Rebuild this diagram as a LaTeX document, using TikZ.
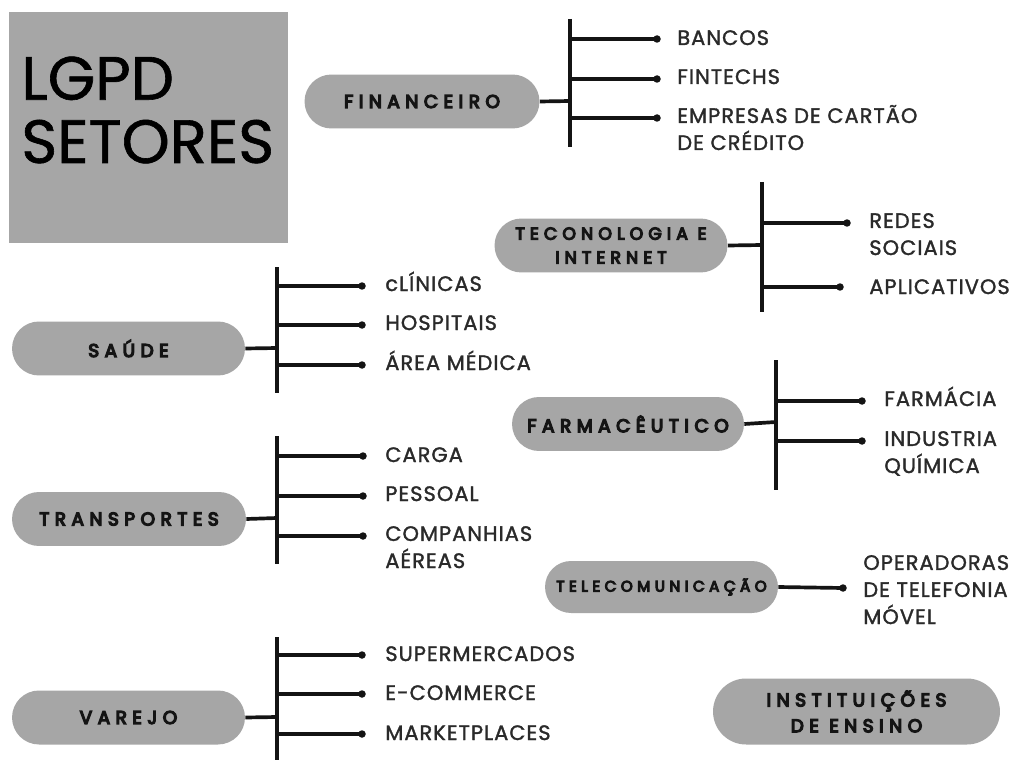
\documentclass[tikz,border=0pt]{standalone}
\usepackage{fontspec}
\setmainfont{Poppins}
\newfontfamily\pillfnt{Poppins}[LetterSpace=30, FakeBold=7]
\newfontfamily\itemfnt{Poppins}[LetterSpace=5, FakeBold=1.5]
\newfontfamily\titlefnt{Poppins}[FakeBold=1]
\usetikzlibrary{shapes.misc}
\definecolor{pillgray}{HTML}{A6A6A6}
\definecolor{ink}{HTML}{141414}
\definecolor{itemink}{HTML}{2A2A2A}
\begin{document}
\begin{tikzpicture}[x=0.02cm,y=-0.02cm,
  pill/.style={shape=rounded rectangle, fill=pillgray, minimum height=1.08cm, inner sep=0pt, align=center, text=ink, font={\pillfnt\fontsize{10.5}{13.5}\selectfont}},
  item/.style={anchor=base west, inner sep=0pt, align=left, text=itemink, font={\itemfnt\fontsize{11.9}{15.4}\selectfont}},
  link/.style={line width=2.1pt, draw=ink},
  dot/.style={circle, fill=ink, inner sep=0pt, minimum size=0.15cm}
]
\useasboundingbox (0,0) rectangle (1017,760);
\fill[white] (0,0) rectangle (1017,760);

% title
\node[fill=pillgray, minimum width=5.58cm, minimum height=4.62cm, inner sep=0pt] (titlebox) at (148.5,127.5) {};
\node[anchor=west, inner sep=0pt, align=left, text=black, font={\titlefnt\fontsize{34.8}{36}\selectfont}] (title) at (21,110) {LGPD\\SETORES};

% FINANCEIRO
\node[pill, minimum width=4.7cm] (fin) at (422,101.5) {FINANCEIRO};
\coordinate (finJ) at (570,101);
\coordinate (finT) at (570,19);
\coordinate (finE) at (570,147);
\draw[link] (fin.east) -- (finJ);
\draw[link] (finT) -- (finE);
\foreach \i/\y in {1/39,2/79,3/118}{
  \coordinate (finB\i) at (570,\y);
  \node[dot] (finD\i) at (657,\y) {};
  \draw[link] (finB\i) -- (finD\i.center);
}
\node[item] (bancos) at (677,45) {BANCOS};
\node[item] (fintechs) at (677,84) {FINTECHS};
\node[item] (cartao) at (677,150) {EMPRESAS DE CARTÃO\\DE CRÉDITO};

% TECONOLOGIA
\node[pill, minimum width=4.66cm, font={\pillfnt\fontsize{9.8}{13.6}\selectfont}] (tec) at (611,245.5) {TECONOLOGIA E\\INTERNET};
\coordinate (tecJ) at (762,245);
\coordinate (tecT) at (762,182);
\coordinate (tecE) at (762,312);
\draw[link] (tec.east) -- (tecJ);
\draw[link] (tecT) -- (tecE);
\coordinate (tecB1) at (762,223);
\coordinate (tecB2) at (762,287);
\node[dot] (tecD1) at (847,223) {};
\node[dot] (tecD2) at (840,287) {};
\draw[link] (tecB1) -- (tecD1.center);
\draw[link] (tecB2) -- (tecD2.center);
\node[item] (redes) at (869,255) {REDES\\SOCIAIS};
\node[item] (apps) at (869,294) {APLICATIVOS};

% SAUDE
\node[pill, minimum width=4.66cm] (saude) at (128.5,348.5) {SAÚDE};
\coordinate (sauJ) at (277,348);
\coordinate (sauT) at (277,267);
\coordinate (sauE) at (277,393);
\draw[link] (saude.east) -- (sauJ);
\draw[link] (sauT) -- (sauE);
\foreach \i/\y in {1/286,2/325,3/365}{
  \coordinate (sauB\i) at (277,\y);
  \node[dot] (sauD\i) at (362,\y) {};
  \draw[link] (sauB\i) -- (sauD\i.center);
}
\node[item] (clinicas) at (385,291) {cLÍNICAS};
\node[item] (hospitais) at (385,330) {HOSPITAIS};
\node[item] (areamed) at (385,370) {ÁREA MÉDICA};

% FARMACEUTICO
\node[pill, minimum width=4.64cm] (farm) at (628,424) {FARMACÊUTICO};
\coordinate (farJ) at (776,422);
\coordinate (farT) at (776,360);
\coordinate (farE) at (776,490);
\draw[link] (farm.east) -- (farJ);
\draw[link] (farT) -- (farE);
\foreach \i/\y in {1/401,2/441}{
  \coordinate (farB\i) at (776,\y);
  \node[dot] (farD\i) at (862,\y) {};
  \draw[link] (farB\i) -- (farD\i.center);
}
\node[item] (farmacia) at (884,406) {FARMÁCIA};
\node[item] (quimica) at (884,473) {INDUSTRIA\\QUÍMICA};

% TRANSPORTES
\node[pill, minimum width=4.68cm] (transp) at (129,519) {TRANSPORTES};
\coordinate (traJ) at (277,518);
\coordinate (traT) at (277,436);
\coordinate (traE) at (277,564);
\draw[link] (transp.east) -- (traJ);
\draw[link] (traT) -- (traE);
\foreach \i/\y in {1/456,2/496,3/536}{
  \coordinate (traB\i) at (277,\y);
  \node[dot] (traD\i) at (363,\y) {};
  \draw[link] (traB\i) -- (traD\i.center);
}
\node[item] (carga) at (385,462) {CARGA};
\node[item] (pessoal) at (385,501) {PESSOAL};
\node[item] (aereas) at (385,568) {COMPANHIAS\\AÉREAS};

% TELECOMUNICACAO
\node[pill, minimum width=4.66cm, minimum height=1.04cm, font={\pillfnt\fontsize{8.6}{12}\selectfont}] (tele) at (661.5,587) {TELECOMUNICAÇÃO};
\node[dot] (teleD) at (843,588) {};
\draw[link] (tele.east) -- (teleD.center);
\node[item] (operadoras) at (863,624) {OPERADORAS\\DE TELEFONIA\\MÓVEL};

% VAREJO
\node[pill, minimum width=4.66cm] (varejo) at (128.5,717.5) {VAREJO};
\coordinate (varJ) at (277,717);
\coordinate (varT) at (277,637);
\coordinate (varE) at (277,762);
\draw[link] (varejo.east) -- (varJ);
\draw[link] (varT) -- (varE);
\foreach \i/\y in {1/655,2/694,3/734}{
  \coordinate (varB\i) at (277,\y);
  \node[dot] (varD\i) at (362,\y) {};
  \draw[link] (varB\i) -- (varD\i.center);
}
\node[item] (super) at (385,661) {SUPERMERCADOS};
\node[item] (ecom) at (385,700) {E-COMMERCE};
\node[item] (market) at (385,740) {MARKETPLACES};

% INSTITUICOES
\node[pill, minimum width=5.74cm, minimum height=1.32cm, font={\pillfnt\fontsize{10.5}{14.7}\selectfont}] (inst) at (856.5,711.5) {INSTITUIÇÕES\\DE ENSINO};
\end{tikzpicture}
\end{document}
